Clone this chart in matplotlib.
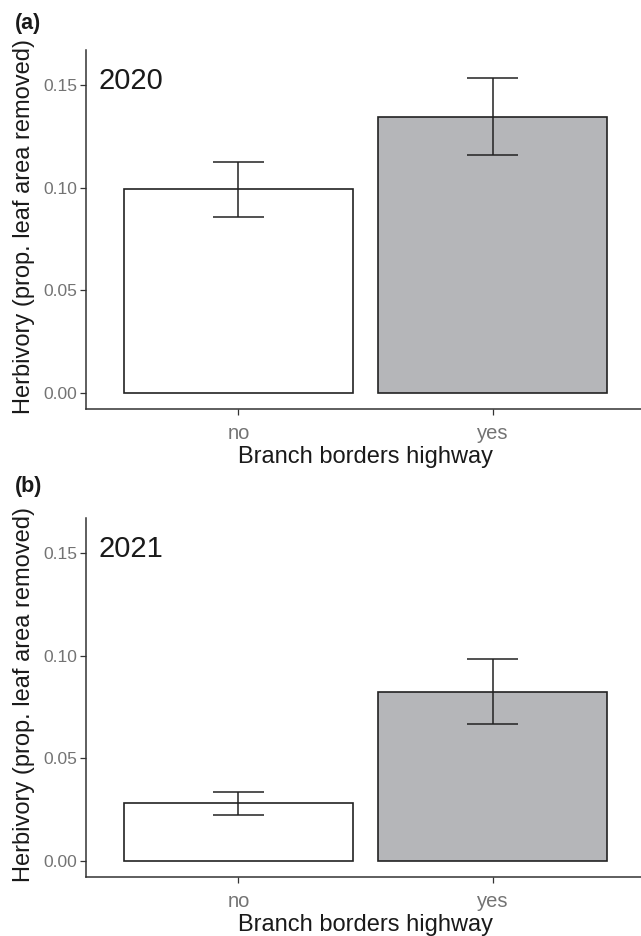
import matplotlib
matplotlib.use("Agg")
import matplotlib.pyplot as plt

plt.rcParams['font.family'] = ['Liberation Sans', 'DejaVu Sans']

categories = ["no", "yes"]
years = ["2020", "2021"]
panel_labels = ["(a)", "(b)"]
means_2020 = [0.0995, 0.1348]
lower_2020 = [0.0860, 0.1161]
upper_2020 = [0.1127, 0.1535]
means_2021 = [0.0282, 0.0826]
lower_2021 = [0.0226, 0.0670]
upper_2021 = [0.0339, 0.0986]
yticks = [0.00, 0.05, 0.10, 0.15]
ytick_labels = ["0.00", "0.05", "0.10", "0.15"]
fills = ["#FFFFFF", "#B5B6B9"]

W, H = 641, 936
fig = plt.figure(figsize=(W / 100, H / 100), dpi=100)

def px_axes(left, top, right, bottom):
    return fig.add_axes([left / W, 1 - bottom / H, (right - left) / W, (bottom - top) / H])

panels = [
    (means_2020, lower_2020, upper_2020, 50, 409),
    (means_2021, lower_2021, upper_2021, 518, 877),
]
lab_y = [23, 486]
dark = "#333333"
for i, (m, lo, hi, top, bot) in enumerate(panels):
    ax = px_axes(86, top, 645, bot)
    x = [1, 2]
    ax.bar(x, m, width=0.9, color=fills, edgecolor="#222222", linewidth=1.2, zorder=2)
    yerr = [[mm - l for mm, l in zip(m, lo)], [h - mm for mm, h in zip(m, hi)]]
    ax.errorbar(x, m, yerr=yerr, fmt="none", ecolor="#222222", elinewidth=1.1,
                capsize=0, zorder=3)
    for xi, l, h in zip(x, lo, hi):
        ax.hlines([l, h], xi - 0.1, xi + 0.1, colors="#222222", linewidth=1.1, zorder=3)
    ax.set_xlim(0.4, 2.6)
    ax.set_ylim(-0.0078, 0.1673)
    ax.set_xticks(x)
    ax.set_xticklabels(categories, fontsize=14.5, color="#737373")
    ax.set_yticks(yticks)
    ax.set_yticklabels(ytick_labels, fontsize=12.5, color="#737373")
    ax.tick_params(axis="y", length=4, width=0.9, color=dark, pad=2.5)
    ax.tick_params(axis="x", length=4, width=0.9, color=dark, pad=6.5)
    for s in ["top", "right"]:
        ax.spines[s].set_visible(False)
    for s in ["left", "bottom"]:
        ax.spines[s].set_color(dark)
        ax.spines[s].set_linewidth(1.1)
    ax.set_xlabel("Branch borders highway", fontsize=17, color="#1A1A1A", labelpad=2.5)
    ax.text(0.575, 0.152, years[i], fontsize=21, color="#1A1A1A", ha="center", va="center")
    fig.text(24 / W, 1 - ((top + bot) / 2 - 3) / H, "Herbivory (prop. leaf area removed)",
             rotation=90, ha="center", va="center", fontsize=17, color="#1A1A1A")
    fig.text(15 / W, 1 - lab_y[i] / H, panel_labels[i], fontsize=15.5, fontweight="bold",
             ha="left", va="center", color="#1A1A1A")

fig.savefig("out.png", dpi=100)
